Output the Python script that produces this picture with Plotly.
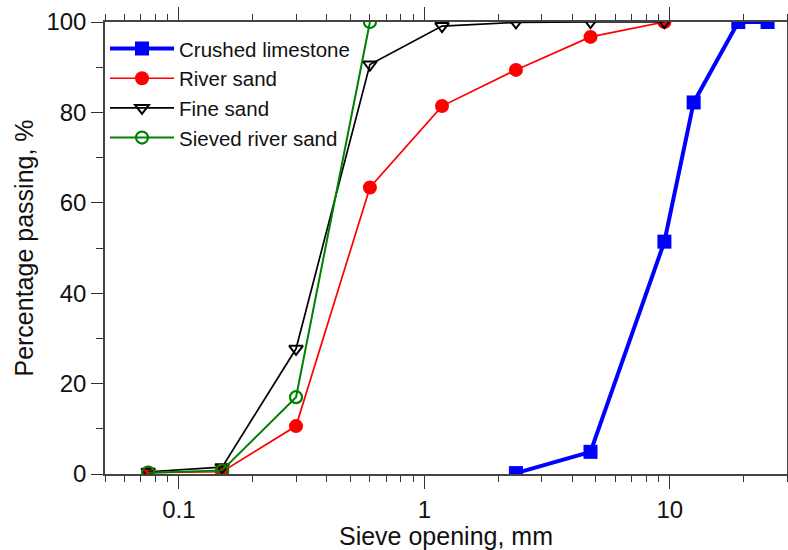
import plotly.graph_objects as go
import math

limestone_x = [2.36, 4.75, 9.5, 12.5, 19, 25]
limestone_y = [0.2, 4.9, 51.4, 82.2, 100, 100]

river_x = [0.075, 0.15, 0.3, 0.6, 1.18, 2.36, 4.75, 9.5]
river_y = [0.3, 0.5, 10.6, 63.4, 81.4, 89.4, 96.7, 100]

fine_x = [0.075, 0.15, 0.3, 0.6, 1.18, 2.36, 4.75, 9.5]
fine_y = [0.5, 1.5, 27.7, 90.6, 99.1, 99.9, 100, 100]

sieved_x = [0.075, 0.15, 0.3, 0.6]
sieved_y = [0.3, 0.8, 17.0, 100]

fig = go.Figure()
fig.add_trace(go.Scatter(x=limestone_x, y=limestone_y, name="Crushed limestone",
                         mode="lines+markers", line=dict(color="#0000ff", width=4),
                         marker=dict(symbol="square", size=14, color="#0000ff")))
fig.add_trace(go.Scatter(x=river_x, y=river_y, name="River sand",
                         mode="lines+markers", line=dict(color="#ff0000", width=1.7),
                         marker=dict(symbol="circle", size=14, color="#ff0000")))
fig.add_trace(go.Scatter(x=fine_x, y=fine_y, name="Fine sand",
                         mode="lines+markers", line=dict(color="#000000", width=1.7),
                         marker=dict(symbol="triangle-down-open", size=12, color="#000000",
                                     line=dict(width=2))))
fig.add_trace(go.Scatter(x=sieved_x, y=sieved_y, name="Sieved river sand",
                         mode="lines+markers", line=dict(color="#008000", width=2),
                         marker=dict(symbol="circle-open", size=12, color="#008000",
                                     line=dict(width=2.2))))

font = "Liberation Sans, Arial, sans-serif"
fig.update_layout(
    width=788, height=550,
    margin=dict(l=105, r=1, t=22, b=76),
    plot_bgcolor="white", paper_bgcolor="white",
    font=dict(family=font, size=24, color="#111"),
    showlegend=True,
    legend=dict(x=0.0, y=0.985, xanchor="left", yanchor="top",
                bgcolor="rgba(0,0,0,0)", font=dict(size=20.5, family=font),
                itemwidth=64, tracegroupgap=0),
    xaxis=dict(type="log", range=[math.log10(0.05), math.log10(30)],
               tickvals=[0.1, 1, 10], ticktext=["0.1", "1", "10"],
               ticks="outside", ticklen=13, tickwidth=1, tickcolor="#333",
               showline=True, linecolor="#444", linewidth=1.5, mirror="ticks",
               showgrid=False, zeroline=False, automargin=False,
               minor=dict(ticks="outside", ticklen=6, tickcolor="#333", dtick="D1", showgrid=False),
               title=dict(text="Sieve opening, mm", standoff=4, font=dict(size=25)),
               tickfont=dict(size=24)),
    yaxis=dict(range=[0, 100], tickvals=[0, 20, 40, 60, 80, 100],
               ticks="outside", ticklen=12, tickwidth=1, tickcolor="#333",
               showline=True, linecolor="#444", linewidth=1.5, mirror="ticks",
               showgrid=False, zeroline=False, automargin=False,
               minor=dict(ticks="outside", ticklen=7, tickcolor="#333", dtick=10, showgrid=False),
               title=dict(text="Percentage passing, %", standoff=6, font=dict(size=25)),
               tickfont=dict(size=24)),
)

fig.write_html("out.html")
